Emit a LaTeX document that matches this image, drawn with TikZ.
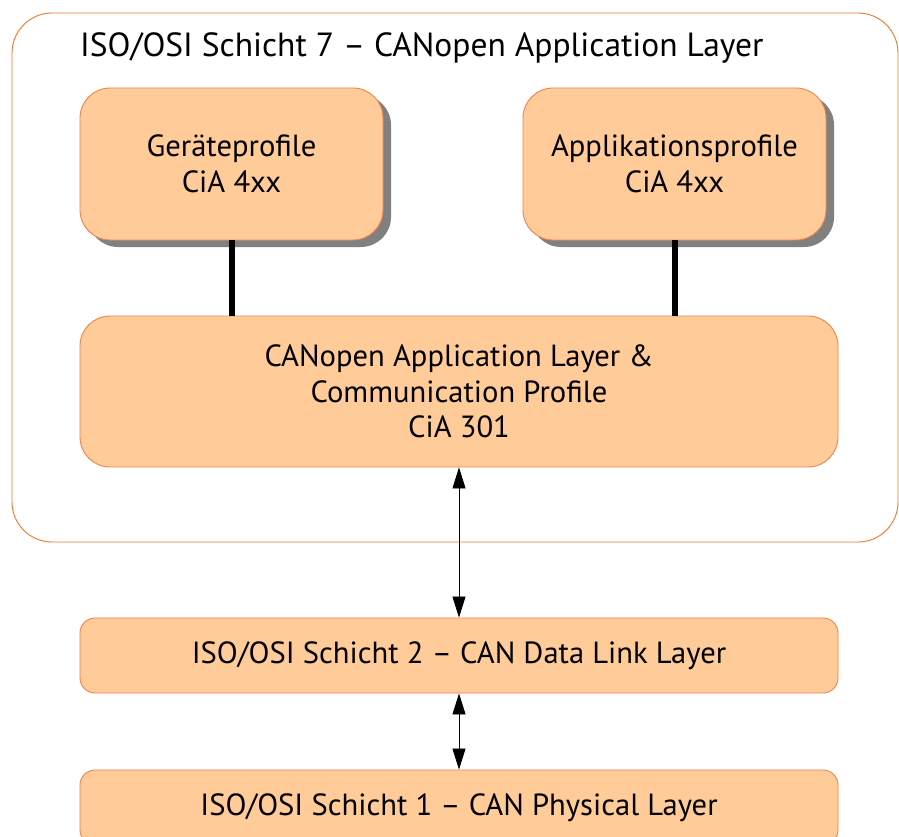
\documentclass[tikz,border=0pt]{standalone}
\usepackage{fontspec}
\setmainfont{PT Sans}
\usetikzlibrary{arrows.meta,shadows}
\definecolor{peach}{RGB}{255,203,153}
\definecolor{boxedge}{RGB}{242,130,80}
\definecolor{outeredge}{RGB}{240,120,40}
\definecolor{shadowgray}{RGB}{128,128,128}
\tikzset{
  layerbox/.style={draw=boxedge, fill=peach, line width=0.9pt, align=center,
    font=\fontsize{30.6}{35.5}\selectfont, inner sep=0pt},
  profbox/.style={layerbox, rounded corners=30pt, minimum width=303pt, minimum height=152pt,
    drop shadow={shadow xshift=8pt, shadow yshift=-7pt, fill=shadowgray, opacity=1}},
  thickconn/.style={line width=6pt, black},
  biarrow/.style={{Triangle[length=21pt,width=13pt]}-{Triangle[length=21pt,width=13pt]}, line width=0.8pt, black}
}
\begin{document}
\begin{tikzpicture}[x=1pt,y=-1pt]
\useasboundingbox (0,0) rectangle (899,837);
\fill[white] (0,0) rectangle (899,837);
% outer application layer frame
\draw[outeredge, line width=0.9pt, rounded corners=40pt] (12,13) rectangle (898,542);
\node[anchor=base west, font=\fontsize{33.5}{40}\selectfont, inner sep=0pt] (title) at (80,57)
  {ISO/OSI Schicht 7 – CANopen Application Layer};
% profile boxes
\node[profbox] (geraete) at (231.5,164) {Geräteprofile\\CiA 4xx};
\node[profbox] (applik) at (674.5,164) {Applikationsprofile\\CiA 4xx};
% CANopen box
\node[layerbox, rounded corners=30pt, minimum width=758pt, minimum height=151pt] (canopen) at (459,391.5)
  {CANopen Application Layer \&\\Communication Profile\\CiA 301};
% lower layers
\node[layerbox, rounded corners=15pt, minimum width=758pt, minimum height=75pt] (datalink) at (459,655.5)
  {ISO/OSI Schicht 2 – CAN Data Link Layer};
\node[layerbox, rounded corners=15pt, minimum width=758pt, minimum height=75pt] (physical) at (459,807.5)
  {ISO/OSI Schicht 1 – CAN Physical Layer};
% connectors
\draw[thickconn] (geraete.south) -- (geraete.south |- canopen.north);
\draw[thickconn] (applik.south) -- (applik.south |- canopen.north);
\draw[biarrow] (canopen.south) -- (datalink.north);
\draw[biarrow] (datalink.south) -- (physical.north);
\end{tikzpicture}
\end{document}
